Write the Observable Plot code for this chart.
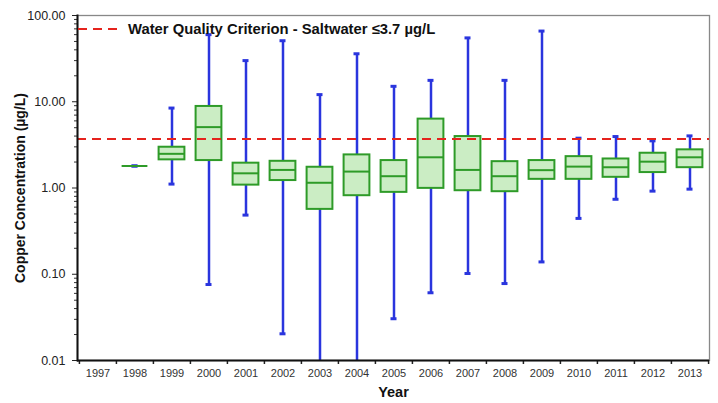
<!DOCTYPE html>
<html><head><meta charset="utf-8">
<script src="https://cdn.jsdelivr.net/npm/d3@7"></script>
<script src="https://cdn.jsdelivr.net/npm/@observablehq/plot@0.6"></script>
<style>
body{margin:0;background:#fff;font-family:"Liberation Sans",Arial,sans-serif;}
#wrap{position:relative;width:718px;height:403px;}
#legend{position:absolute;left:78px;top:20px;height:17px;display:flex;align-items:center;font-weight:bold;font-size:14.8px;color:#111;white-space:nowrap;}
</style></head><body>
<div id="wrap"><div id="legend"><svg width="41" height="4"><line x1="0" y1="2" x2="41" y2="2" stroke="#e5231d" stroke-width="2" stroke-dasharray="9,6"/></svg><span style="margin-left:9px">Water Quality Criterion - Saltwater ≤3.7 µg/L</span></div></div>
<script>
const years = ["1997","1998","1999","2000","2001","2002","2003","2004","2005","2006","2007","2008","2009","2010","2011","2012","2013"];
const whiskerLow  = [null, 1.8, 1.11, 0.076, 0.485, 0.0204, 0.005, 0.005, 0.0305, 0.061, 0.102, 0.078, 0.139, 0.444, 0.74, 0.92, 0.97];
const quartile1   = [null, 1.8, 2.12, 2.08, 1.08, 1.22, 0.565, 0.814, 0.89, 0.99, 0.93, 0.906, 1.26, 1.26, 1.33, 1.51, 1.72];
const median      = [null, 1.8, 2.49, 5.08, 1.48, 1.62, 1.15, 1.55, 1.37, 2.27, 1.62, 1.37, 1.61, 1.77, 1.74, 2.02, 2.27];
const quartile3   = [null, 1.8, 2.97, 8.82, 1.94, 2.04, 1.74, 2.42, 2.08, 6.29, 3.95, 2.02, 2.08, 2.31, 2.17, 2.53, 2.77];
const whiskerHigh = [null, 1.8, 8.45, 60, 30, 51, 12.1, 36, 15.1, 17.7, 55, 17.7, 66, 3.78, 3.95, 3.52, 4.02];
const criterion = [3.7];
const majorTicks = [0.01, 0.1, 1, 10, 100];
const minorTicks = d3.scaleLog().domain([0.01, 100]).ticks(40).filter(t => !majorTicks.includes(+t.toPrecision(6)));

const data = years.map((year, i) => ({year, lo: whiskerLow[i], q1: quartile1[i], med: median[i], q3: quartile3[i], hi: whiskerHigh[i]}))
  .filter(d => d.med != null);

const W = 718, H = 403, ML = 77, MR = 9, MT = 15, MB = 43;
const step = (W - ML - MR) / years.length;
const blue = "#2a35de", green = "#2e9b28", fillG = "#cbedc4";

const chart = Plot.plot({
  width: W, height: H, marginLeft: ML, marginRight: MR, marginTop: MT, marginBottom: MB,
  style: {fontFamily: "Liberation Sans, Arial, sans-serif", fontSize: "12px", color: "#222", background: "#fff"},
  x: {type: "band", domain: years, padding: 0, label: null},
  y: {type: "log", domain: [0.01, 100], label: null},
  marks: [
    Plot.frame({stroke: "#888", strokeWidth: 1.3}),
    Plot.axisY({ticks: minorTicks, tickSize: 3, tickFormat: () => "", label: null, stroke: "#333"}),
    Plot.axisY({ticks: majorTicks, tickSize: 5, tickPadding: 7, tickFormat: d => d.toFixed(2), label: null, fontSize: 12.5, stroke: "#222"}),
    Plot.axisX({tickSize: 0, tickPadding: 9, label: null, fontSize: 11, fill: "#333"}),
    Plot.axisX({tickSize: 4, tickFormat: () => "", dx: -step / 2, label: null, stroke: "#222", strokeWidth: 1.5}),
    Plot.axisX(["2013"], {tickSize: 4, tickFormat: () => "", dx: step / 2, label: null, stroke: "#222", strokeWidth: 1.5}),
    Plot.ruleX(data, {x: "year", y1: "lo", y2: "hi", stroke: blue, strokeWidth: 2.5, clip: true}),
    Plot.tickY(data, {x: "year", y: "lo", stroke: blue, strokeWidth: 3, inset: 15.5, clip: true}),
    Plot.tickY(data, {x: "year", y: "hi", stroke: blue, strokeWidth: 3, inset: 15.5, clip: true}),
    Plot.barY(data, {x: "year", y1: "q1", y2: "q3", fill: fillG, stroke: green, strokeWidth: 2, insetLeft: 5.6, insetRight: 5.6}),
    Plot.tickY(data, {x: "year", y: "med", stroke: green, strokeWidth: 2, inset: 5.6}),
    Plot.ruleY(criterion, {stroke: "#e5231d", strokeWidth: 2, strokeDasharray: "9,6"}),
    Plot.ruleY([0.01], {stroke: "#111", strokeWidth: 2}),
    Plot.frame({anchor: "left", stroke: "#111", strokeWidth: 2}),
    Plot.text(["Copper Concentration (µg/L)"], {text: d => d, frameAnchor: "left", rotate: -90, dx: -57, textAnchor: "middle", lineAnchor: "middle", fontWeight: "bold", fontSize: 14, fill: "#111"}),
    Plot.text(["Year"], {text: d => d, frameAnchor: "bottom", dy: 32, textAnchor: "middle", lineAnchor: "middle", fontWeight: "bold", fontSize: 14.5, fill: "#111"})
  ]
});
document.getElementById("wrap").prepend(chart);
</script>
</body></html>
